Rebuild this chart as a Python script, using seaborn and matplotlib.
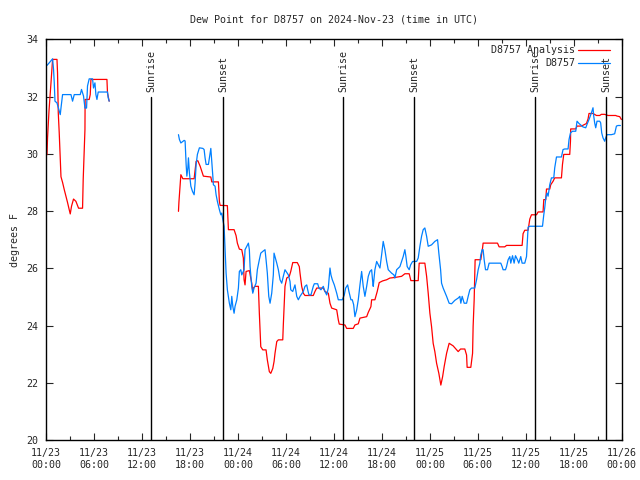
import pandas as pd
import matplotlib
matplotlib.use("Agg")
import matplotlib.pyplot as plt
import seaborn as sns

# hours since 11/23 00:00 UTC, dew point in F
ana1_h = [0.09, 0.16, 0.34, 0.59, 0.79, 1.34, 1.41, 1.5, 1.62, 1.84, 2.04, 2.25, 2.46, 2.66, 2.87, 3.0,
          3.16, 3.41, 3.71, 4.04, 4.54, 4.62, 4.84, 4.86, 5.37, 5.5, 5.59, 7.59, 7.66, 7.87]
ana1_v = [29.97, 30.56, 31.5, 32.48, 33.3, 33.3, 32.83, 31.44, 30.74, 29.2, 29.0, 28.75, 28.52, 28.3, 28.05, 27.9,
          28.17, 28.42, 28.34, 28.1, 28.1, 29.1, 30.85, 31.9, 31.9, 32.07, 32.6, 32.6, 32.13, 31.84]

ana2_h = [16.54, 16.6, 16.84, 17.09, 18.5, 18.75, 18.96, 19.25, 19.46, 19.66, 20.59, 20.71, 21.54, 21.66, 21.75,
          22.66, 22.79, 23.5, 23.75, 23.91, 24.16, 24.46, 24.66, 24.75, 24.87, 25.0, 25.41, 25.71, 25.84, 25.91,
          26.12, 26.54, 26.66, 26.84, 27.09, 27.5, 27.66, 27.91, 28.09, 28.34, 28.5, 28.62, 28.84, 29.04, 29.59,
          29.66, 29.87, 30.09, 30.41, 30.59, 30.84, 31.41, 31.66, 31.75, 31.96, 32.16, 32.37, 33.41, 33.62, 33.84,
          34.66, 34.87, 35.29, 35.5, 35.71, 36.34, 36.54, 36.66, 37.37, 37.59, 38.41, 38.62, 39.04, 39.25, 40.09,
          40.29, 40.62, 40.71, 41.12, 41.41, 41.66, 42.09, 42.59, 43.0, 43.62, 44.46, 44.87, 45.41, 45.62, 46.54,
          46.66, 47.37, 47.59, 47.79, 48.0, 48.21, 48.41, 48.62, 48.84, 49.12, 49.37, 49.59, 49.79, 50.09, 50.41,
          50.91, 51.54, 51.84, 52.37, 52.59, 52.66, 53.12, 53.34, 53.41, 53.54, 53.66, 54.37, 54.59, 54.66, 56.46,
          56.66, 57.37, 57.59, 59.54, 59.66, 59.87, 60.29, 60.5, 60.71, 61.34, 61.54, 62.16, 62.25, 62.5, 62.59,
          63.0, 63.12, 63.41, 63.62, 64.46, 64.59, 64.75, 65.5, 65.59, 65.62, 66.25, 66.41, 66.96, 67.59, 67.79,
          67.91, 68.41, 68.84, 69.25, 69.46, 69.87, 70.29, 71.25, 71.41, 71.75, 71.96]
ana2_v = [27.99, 28.32, 29.27, 29.13, 29.13, 29.74, 29.76, 29.57, 29.39, 29.22, 29.19, 29.02, 29.02, 28.34, 28.2,
          28.19, 27.35, 27.35, 27.14, 26.88, 26.67, 26.65, 26.36, 25.6, 25.42, 25.89, 25.92, 25.48, 25.19, 25.31,
          25.37, 25.37, 24.43, 23.26, 23.15, 23.15, 22.8, 22.39, 22.33, 22.5, 22.74, 23.03, 23.44, 23.5, 23.5,
          24.02, 25.37, 25.66, 25.72, 25.89, 26.2, 26.2, 26.06, 25.83, 25.37, 25.13, 25.05, 25.05, 25.19, 25.31,
          25.31, 25.19, 25.13, 24.78, 24.61, 24.55, 24.2, 24.05, 24.02, 23.9, 23.9, 24.02, 24.06, 24.26, 24.31,
          24.46, 24.66, 24.9, 24.9, 25.19, 25.5, 25.56, 25.6, 25.66, 25.68, 25.72, 25.81, 25.81, 25.57, 25.57,
          26.18, 26.18, 25.72, 25.13, 24.43, 23.96, 23.38, 23.09, 22.68, 22.33, 21.92, 22.21, 22.57, 23.03, 23.38,
          23.29, 23.09, 23.18, 23.18, 22.97, 22.54, 22.54, 23.03, 23.97, 24.9, 26.3, 26.3, 26.71, 26.88, 26.88,
          26.75, 26.75, 26.8, 26.8, 27.21, 27.33, 27.33, 27.72, 27.87, 27.87, 27.97, 27.97, 28.4, 28.4, 28.77,
          28.77, 28.92, 29.04, 29.16, 29.16, 29.63, 29.98, 29.98, 30.44, 30.87, 30.87, 30.97, 30.97, 31.06, 31.22,
          31.41, 31.41, 31.34, 31.34, 31.38, 31.38, 31.34, 31.34, 31.32, 31.3, 31.2]

obs1_h = [0.09, 0.37, 0.79, 0.91, 1.0, 1.09, 1.34, 1.62, 1.75, 1.84, 2.04, 3.09, 3.29, 3.5, 4.25, 4.41, 4.66,
          4.84, 5.04, 5.16, 5.37, 5.79, 5.91, 6.09, 6.21, 6.34, 6.5, 7.66, 7.75, 7.87]
obs1_v = [33.09, 33.18, 33.32, 32.95, 32.48, 31.84, 31.78, 31.5, 31.37, 31.6, 32.07, 32.07, 31.84, 32.07, 32.07,
          32.25, 32.02, 31.6, 31.6, 32.37, 32.62, 32.62, 32.3, 32.48, 32.07, 31.9, 32.16, 32.16, 31.96, 31.84]

obs2_h = [16.54, 16.66, 16.84, 17.25, 17.37, 17.5, 17.59, 17.71, 17.79, 17.91, 18.09, 18.29, 18.5, 18.62, 18.75,
          18.91, 19.16, 19.59, 19.75, 19.87, 20.0, 20.29, 20.41, 20.59, 20.71, 20.84, 20.91, 21.12, 21.25, 21.41,
          21.66, 21.84, 21.96, 22.09, 22.25, 22.37, 22.5, 22.66, 22.91, 23.09, 23.21, 23.34, 23.5, 23.62, 23.84,
          24.04, 24.16, 24.34, 24.46, 24.75, 24.87, 25.09, 25.29, 25.41, 25.5, 25.71, 25.84, 26.0, 26.25, 26.41,
          26.66, 26.84, 27.09, 27.37, 27.5, 27.66, 27.84, 28.0, 28.21, 28.41, 28.5, 28.84, 29.04, 29.25, 29.46,
          29.66, 29.87, 30.29, 30.5, 30.59, 30.84, 31.12, 31.34, 31.54, 31.75, 32.16, 32.37, 32.59, 32.71, 32.87,
          33.12, 33.41, 33.54, 33.96, 34.12, 34.37, 34.66, 34.87, 35.09, 35.29, 35.41, 35.5, 35.62, 35.79, 36.04,
          36.34, 36.54, 37.04, 37.29, 37.46, 37.71, 37.87, 38.12, 38.29, 38.46, 38.62, 38.84, 39.04, 39.25, 39.46,
          39.66, 39.87, 40.09, 40.29, 40.5, 40.71, 40.84, 40.91, 41.12, 41.34, 41.75, 41.96, 42.16, 42.37, 42.59,
          42.79, 43.21, 43.5, 43.62, 43.84, 44.25, 44.46, 44.66, 44.87, 45.0, 45.16, 45.41, 45.59, 45.84, 46.34,
          46.54, 46.75, 46.96, 47.16, 47.37, 47.59, 47.79, 48.21, 48.62, 48.96, 49.12, 49.34, 49.46, 49.66, 50.09,
          50.41, 50.71, 51.12, 51.54, 51.75, 51.87, 52.04, 52.29, 52.59, 52.79, 53.0, 53.21, 53.62, 53.84, 54.04,
          54.25, 54.37, 54.54, 54.66, 54.79, 54.96, 55.21, 55.41, 56.87, 57.04, 57.16, 57.46, 57.59, 57.79, 58.0,
          58.12, 58.34, 58.54, 58.71, 58.96, 59.12, 59.37, 59.54, 59.87, 60.09, 60.21, 60.29, 60.5, 62.09, 62.25,
          62.37, 62.5, 62.66, 62.79, 63.0, 63.21, 63.5, 63.62, 63.84, 64.46, 64.66, 64.87, 65.29, 65.41, 65.59,
          65.84, 66.25, 66.41, 66.66, 66.96, 67.16, 67.5, 67.66, 67.91, 68.21, 68.41, 68.5, 68.62, 68.75, 68.91,
          69.25, 69.37, 69.5, 69.66, 69.87, 70.0, 70.16, 70.71, 71.12, 71.34, 71.54, 71.84]
obs2_v = [30.67, 30.5, 30.38, 30.47, 30.45, 29.63, 29.22, 29.5, 29.86, 29.33, 28.87, 28.69, 28.57, 28.98, 29.63,
          29.98, 30.21, 30.19, 30.15, 29.86, 29.63, 29.63, 29.86, 30.19, 29.74, 29.22, 28.92, 28.87, 28.57, 28.34,
          28.05, 27.87, 27.93, 27.7, 27.47, 26.65, 25.83, 25.25, 24.78, 24.55, 25.02, 24.67, 24.43, 24.67, 24.9,
          25.31, 25.89, 25.95, 25.77, 25.95, 26.65, 26.77, 26.88, 26.65, 26.06, 25.37, 25.13, 25.31, 25.48, 25.95,
          26.3, 26.53, 26.59, 26.65, 26.3, 25.83, 25.02, 24.78, 25.13, 25.77, 26.53, 26.18, 25.95, 25.6, 25.48,
          25.72, 25.95, 25.77, 25.54, 25.25, 25.19, 25.42, 25.02, 24.9, 25.02, 25.19, 25.37, 25.42, 25.25, 25.07,
          25.07, 25.37, 25.46, 25.46, 25.31, 25.25, 25.37, 25.19, 25.07, 25.31, 25.72, 26.01, 25.77, 25.6, 25.42,
          25.13, 24.9, 24.9, 25.07, 25.31, 25.42, 25.19, 24.9, 24.9, 24.73, 24.31, 24.55, 24.9, 25.42, 25.89,
          25.37, 25.02, 25.37, 25.72, 25.89, 25.95, 25.54, 25.37, 25.95, 26.24, 26.01, 26.47, 26.94, 26.65, 26.24,
          25.95, 25.83, 25.77, 25.66, 25.95, 26.06, 26.24, 26.41, 26.65, 26.41, 26.06, 25.95, 26.12, 26.24, 26.24,
          26.36, 26.77, 27.12, 27.35, 27.41, 27.12, 26.77, 26.82, 26.94, 27.0, 26.53, 25.95, 25.48, 25.31, 25.02,
          24.78, 24.76, 24.88, 24.96, 25.02, 24.78, 25.02, 24.78, 24.78, 25.02, 25.25, 25.31, 25.31, 25.6, 25.95,
          26.18, 26.47, 26.65, 26.65, 26.3, 25.95, 25.95, 26.18, 26.18, 26.06, 25.95, 25.95, 26.06, 26.3, 26.41,
          26.18, 26.44, 26.18, 26.44, 26.3, 26.18, 26.41, 26.18, 26.18, 26.41, 27.0, 27.44, 27.47, 27.47, 27.87,
          28.11, 28.46, 28.63, 28.52, 28.92, 29.16, 29.16, 29.51, 29.89, 29.89, 30.15, 30.17, 30.17, 30.5, 30.73,
          30.79, 30.79, 31.14, 31.06, 30.99, 30.94, 30.91, 31.03, 31.2, 31.43, 31.61, 31.32, 31.08, 30.91, 31.14,
          31.14, 31.08, 30.73, 30.56, 30.44, 30.56, 30.67, 30.67, 30.7, 30.97, 30.99, 30.99]

sun_h = [13.1, 22.1, 37.1, 46.0, 61.1, 70.0]
sun_lbl = ["Sunrise", "Sunset", "Sunrise", "Sunset", "Sunrise", "Sunset"]

tick_h = list(range(0, 73, 6))
tick_lbl = ["11/23\n00:00", "11/23\n06:00", "11/23\n12:00", "11/23\n18:00",
            "11/24\n00:00", "11/24\n06:00", "11/24\n12:00", "11/24\n18:00",
            "11/25\n00:00", "11/25\n06:00", "11/25\n12:00", "11/25\n18:00",
            "11/26\n00:00"]

parts = [("D8757 Analysis", 1, ana1_h, ana1_v), ("D8757 Analysis", 2, ana2_h, ana2_v),
         ("D8757", 3, obs1_h, obs1_v), ("D8757", 4, obs2_h, obs2_v)]
df = pd.concat([pd.DataFrame({"hour": h, "dewpt": v, "series": s, "seg": g}) for s, g, h, v in parts],
               ignore_index=True)

sns.set_style("ticks")
plt.rcParams['font.family'] = ['DejaVu Sans Mono']
fs = 7.2

fig = plt.figure(figsize=(6.4, 4.8), dpi=100)
ax = fig.add_axes([0.0723, 0.0833, 0.8991, 0.8347])

sns.lineplot(data=df, x="hour", y="dewpt", hue="series", units="seg", estimator=None, sort=False,
             palette={"D8757 Analysis": "#ff0000", "D8757": "#0080ff"}, linewidth=0.9, ax=ax)

# sunrise / sunset markers (the reference draws the Sunrise label through the legend too)
for h, lbl in zip(sun_h, sun_lbl):
    ax.plot([h, h], [20, 31.98], color="black", linewidth=1)
    ax.text(h + 0.1, 32.15, lbl, rotation=90, ha="center", va="bottom", fontsize=fs)

ax.set_xlim(0, 72)
ax.set_ylim(20, 34)
ax.set_xticks(tick_h)
ax.set_xticklabels(tick_lbl)
ax.set_xticks(range(0, 73, 3), minor=True)
ax.set_yticks(range(20, 35, 2))
ax.tick_params(which="both", direction="in", top=True, right=True, labelsize=fs, length=5, width=0.8, pad=6)
ax.tick_params(which="minor", length=3)
for sp in ax.spines.values():
    sp.set_linewidth(1)
    sp.set_color("black")

ax.set_xlabel("")
ax.set_ylabel("degrees F", fontsize=fs)
ax.set_title("Dew Point for D8757 on 2024-Nov-23 (time in UTC)", fontsize=fs, pad=12)

ax.legend(loc="upper right", bbox_to_anchor=(0.99, 1.0), frameon=False, markerfirst=False, fontsize=fs,
          handlelength=3.2, borderaxespad=0.2, labelspacing=0.3, handletextpad=0.3)

fig.savefig("out.png", dpi=100)
